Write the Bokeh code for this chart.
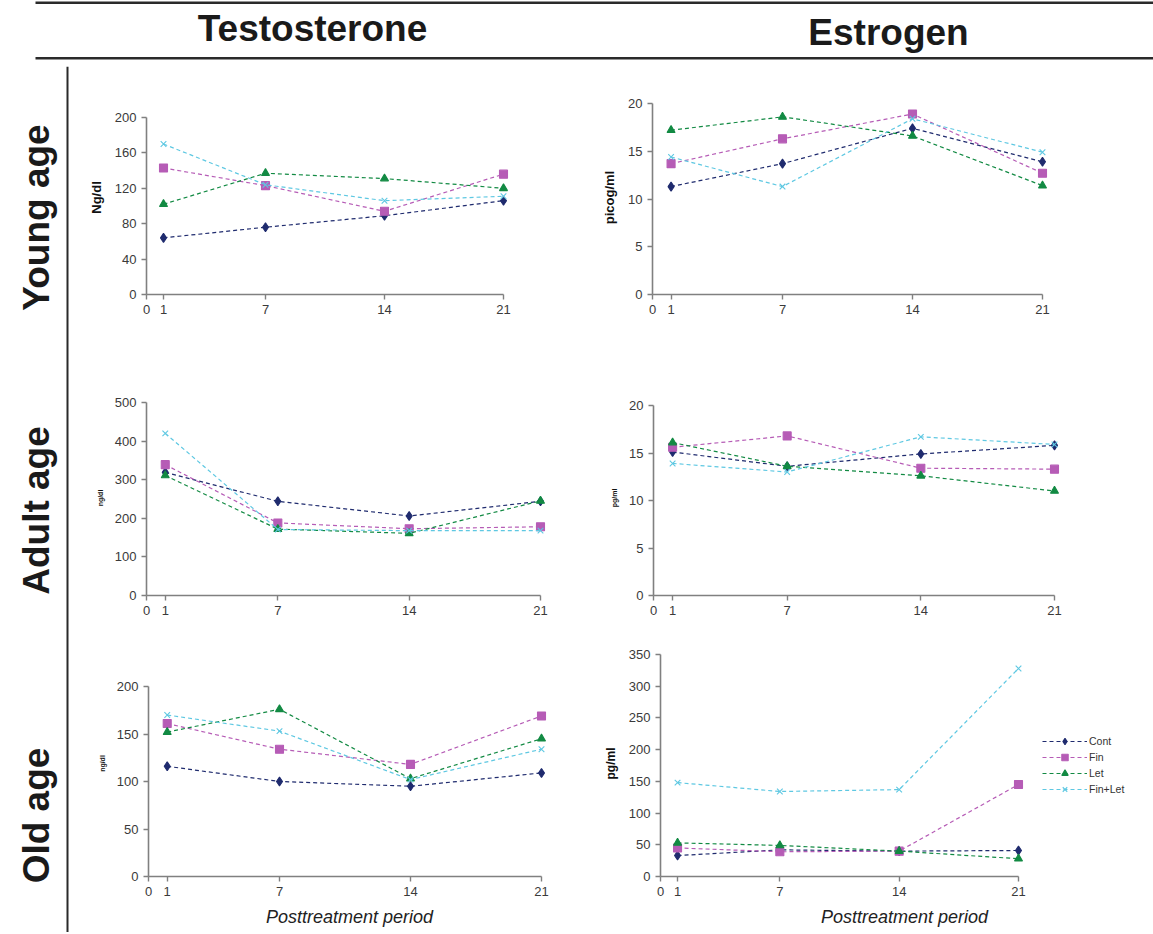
import math
from bokeh.plotting import figure
from bokeh.models import Range1d, FixedTicker, Label, BoxAnnotation, Legend, LegendItem
from bokeh.layouts import row, column
from bokeh.embed import file_html
from bokeh.resources import INLINE

# ---------------- data ----------------
days = [1, 7, 14, 21]
x_ticks = [0, 1, 7, 14, 21]
groups = ["Cont", "Fin", "Let", "Fin+Let"]

young_testosterone = {"Cont": [64, 76, 89, 106], "Fin": [143, 123, 94, 136],
                      "Let": [102, 137, 131, 120], "Fin+Let": [170, 124, 106, 111]}
young_estrogen = {"Cont": [11.3, 13.7, 17.4, 13.9], "Fin": [13.7, 16.3, 18.9, 12.7],
                  "Let": [17.2, 18.6, 16.6, 11.4], "Fin+Let": [14.4, 11.3, 18.4, 14.9]}
adult_testosterone = {"Cont": [319, 244, 206, 244], "Fin": [339, 188, 173, 178],
                      "Let": [311, 172, 161, 245], "Fin+Let": [420, 171, 168, 168]}
adult_estrogen = {"Cont": [15.1, 13.6, 14.9, 15.8], "Fin": [15.6, 16.8, 13.4, 13.3],
                  "Let": [16.1, 13.6, 12.6, 11.0], "Fin+Let": [13.9, 13.0, 16.7, 15.9]}
old_testosterone = {"Cont": [116, 100, 95, 109], "Fin": [161, 134, 118, 169],
                    "Let": [152, 176, 103, 145], "Fin+Let": [170, 153, 102, 134]}
old_estrogen = {"Cont": [33, 42, 40, 41], "Fin": [45, 39, 40, 145],
                "Let": [53, 49, 40, 28], "Fin+Let": [148, 134, 137, 328]}

column_titles = ["Testosterone", "Estrogen"]
row_titles = ["Young age", "Adult age", "Old age"]
x_title = "Posttreatment period"

# ---------------- styles ----------------
colors = {"Cont": "#1f2b6e", "Fin": "#b65cb6", "Let": "#128a43", "Fin+Let": "#5ec8e2"}
markers = {"Cont": "diamond", "Fin": "square", "Let": "triangle", "Fin+Let": "x"}
msizes = {"Cont": 9, "Fin": 8, "Let": 8, "Fin+Let": 8}
BIG_FONT = "'Liberation Sans', Arial, sans-serif"
FONT = "'Liberation Sans', Arial, sans-serif"
AXIS_COLOR = "#808080"


def panel(data, ymax, ystep, ylabel, ylabel_size, x0, x21, ytop, ybot,
          fx0, fx1, fy0, fy1, frame_top, xlabel=None, legend=False, frame_right=None):
    ppu = (x21 - x0) / 21.0
    if frame_right is None:
        fw = int(round(ppu * 21.5))
    else:
        fw = frame_right - x0
    x_end = fw / ppu
    fh = ybot - frame_top
    y_end = ymax * fh / float(ybot - ytop)
    p = figure(frame_width=fw, frame_height=fh,
               min_border_left=x0 - fx0, min_border_right=fx1 - x0 - fw,
               min_border_top=frame_top - fy0, min_border_bottom=fy1 - ybot,
               x_range=Range1d(0, x_end), y_range=Range1d(0, y_end),
               toolbar_location=None, output_backend="svg",
               outline_line_color=None, border_fill_color="white",
               background_fill_color="white")
    p.xgrid.visible = False
    p.ygrid.visible = False
    for ax in p.axis:
        ax.axis_line_color = AXIS_COLOR
        ax.axis_line_width = 1.6
        ax.major_tick_line_color = AXIS_COLOR
        ax.major_tick_line_width = 1.4
        ax.major_tick_in = 0
        ax.major_tick_out = 5
        ax.minor_tick_line_color = None
        ax.major_label_text_font = FONT
        ax.major_label_text_font_size = "13px"
        ax.major_label_text_color = "#3a3a3a"
        ax.major_label_standoff = 5
    p.xaxis.ticker = FixedTicker(ticks=x_ticks)
    p.xaxis.bounds = (0, 21)
    p.yaxis.ticker = FixedTicker(ticks=list(range(0, ymax + 1, ystep)))
    p.yaxis.bounds = (0, ymax)
    p.yaxis.axis_label = ylabel
    p.yaxis.axis_label_text_font = FONT
    p.yaxis.axis_label_text_font_style = "bold"
    p.yaxis.axis_label_text_font_size = ylabel_size
    p.yaxis.axis_label_text_color = "#111111"
    p.yaxis.axis_label_standoff = 8
    if xlabel:
        p.xaxis.axis_label = xlabel
        p.xaxis.axis_label_text_font = FONT
        p.xaxis.axis_label_text_font_style = "italic"
        p.xaxis.axis_label_text_font_size = "18px"
        p.xaxis.axis_label_text_color = "#222222"
        p.xaxis.axis_label_standoff = 8
    items = []
    for g in groups:
        c = colors[g]
        l = p.line(days, data[g], line_color=c, line_dash="4 3", line_width=1.2)
        s = p.scatter(days, data[g], marker=markers[g], size=msizes[g],
                      fill_color=c, line_color=c, line_width=1.1)
        items.append(LegendItem(label=g, renderers=[l, s]))
    if legend:
        lg = Legend(items=items, location=legend, glyph_width=45, glyph_height=16,
                    label_height=16, spacing=0, padding=10, margin=0, label_standoff=2,
                    label_text_font=FONT, label_text_font_size="10.5px",
                    label_text_color="#333333", border_line_color=None,
                    background_fill_alpha=0)
        p.add_layout(lg, "center")
    return p


# Panels (reference pixel geometry)
p1 = panel(young_testosterone, 200, 40, "Ng/dl", "13px", 146, 503, 117, 294,
           85, 580, 66, 360, frame_top=100)
p2 = panel(young_estrogen, 20, 5, "picog/ml", "13px", 652, 1042, 103, 294,
           580, 1153, 66, 360, frame_top=100)
p3 = panel(adult_testosterone, 500, 100, "ng/dl", "7px", 146, 540, 402, 595,
           85, 580, 360, 640, frame_top=400)
p4 = panel(adult_estrogen, 20, 5, "pg/ml", "7px", 653, 1054, 405, 595,
           580, 1153, 360, 640, frame_top=400)
p5 = panel(old_testosterone, 200, 50, "ng/dl", "7px", 148, 541, 686, 876,
           85, 580, 640, 932, frame_top=650, xlabel=x_title)
p6 = panel(old_estrogen, 350, 50, "pg/ml", "12px", 660, 1018, 654, 876,
           580, 1153, 640, 932, frame_top=650, xlabel=x_title,
           legend=(382, 79), frame_right=1148)


def blank(w, h):
    p = figure(frame_width=w, frame_height=h, x_range=Range1d(0, w), y_range=Range1d(0, h),
               min_border=0, toolbar_location=None, output_backend="svg",
               x_axis_location=None, y_axis_location=None, outline_line_color=None,
               border_fill_color="white", background_fill_color="white")
    p.grid.visible = False
    return p


# header with column titles and rules
header = blank(1153, 66)
header.add_layout(BoxAnnotation(left=35, bottom=62.5, top=65, fill_color="#2a2a2a",
                                fill_alpha=1, line_color=None))
header.add_layout(BoxAnnotation(left=35, bottom=7, top=9.5, fill_color="#2a2a2a",
                                fill_alpha=1, line_color=None))
for txt, cx, cy in [(column_titles[0], 312, 38), (column_titles[1], 888, 34)]:
    header.add_layout(Label(x=cx, y=cy, text=txt, text_align="center", text_baseline="middle",
                            text_font=BIG_FONT, text_font_style="bold",
                            text_font_size="37px", text_color="#1a1a1a"))

# left column with row titles and vertical rule
side = blank(85, 866)
side.add_layout(BoxAnnotation(left=66, right=68, bottom=0, top=866, fill_color="#2a2a2a",
                              fill_alpha=1, line_color=None))
for txt, cy in zip(row_titles, [715, 422, 117]):
    side.add_layout(Label(x=36, y=cy, text=txt, angle=math.pi / 2, text_align="center",
                          text_baseline="middle", text_font=BIG_FONT,
                          text_font_style="bold", text_font_size="37px",
                          text_color="#1a1a1a"))

panels = column(row(p1, p2), row(p3, p4), row(p5, p6))
layout = column(header, row(side, panels))

open("out.html", "w").write(file_html(layout, INLINE))
